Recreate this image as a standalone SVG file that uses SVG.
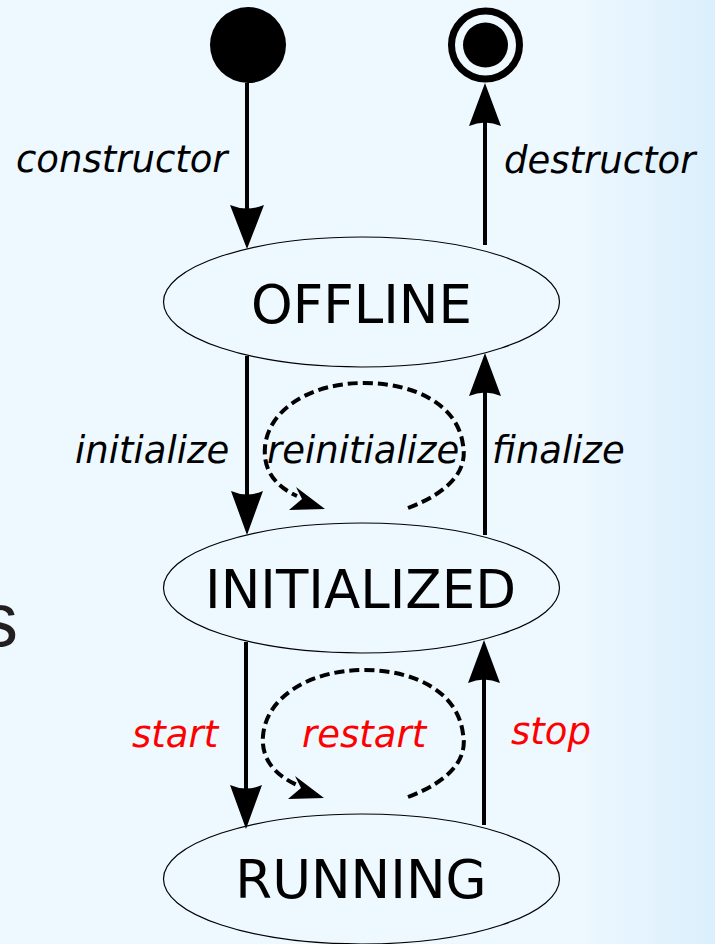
<svg xmlns="http://www.w3.org/2000/svg" width="715" height="944" viewBox="0 0 715 944">
<defs>
<linearGradient id="bg" x1="0" y1="0" x2="1" y2="0">
<stop offset="0" stop-color="#eef8ff"/>
<stop offset="0.8" stop-color="#eef8ff"/>
<stop offset="1" stop-color="#dbeffc"/>
</linearGradient>
<style>
.state{fill:none;stroke:#000;stroke-width:1.2}
.sl{font-family:"DejaVu Sans",sans-serif;font-size:53px;fill:#000;text-anchor:middle}
.el{font-family:"DejaVu Sans",sans-serif;font-size:37px;font-style:oblique;fill:#000}
.red{fill:#ff0000}
.edge{stroke:#000;stroke-width:4;fill:none}
.loop{stroke:#000;stroke-width:4;fill:none;stroke-dasharray:10,5}
.head{fill:#000}
</style>
</defs>
<rect x="0" y="0" width="715" height="944" fill="url(#bg)"/>
<text x="-20" y="646" font-family="Liberation Sans, Arial, sans-serif" font-size="76" fill="#231f20">s</text>

<g id="initial"><circle cx="248" cy="45" r="38" fill="#000"/></g>
<g id="final"><circle cx="485.5" cy="45" r="34" fill="#eef8ff" stroke="#000" stroke-width="7"/><circle cx="485.5" cy="45" r="22.5" fill="#000"/></g>

<g id="offline"><ellipse class="state" cx="361.5" cy="302" rx="198" ry="65"/><text class="sl" x="361.5" y="323">OFFLINE</text></g>
<g id="initialized"><ellipse class="state" cx="361.5" cy="588" rx="198" ry="65"/><text class="sl" x="360.5" y="608">INITIALIZED</text></g>
<g id="running"><ellipse class="state" cx="361.5" cy="879" rx="198" ry="65"/><text class="sl" x="361" y="898">RUNNING</text></g>

<g id="connectors">
<line class="edge" x1="247" y1="83" x2="247" y2="215"/>
<path class="head" d="M247,249 L230,205 Q247,212 264,205 Z"/>
<line class="edge" x1="485" y1="245" x2="485" y2="115"/>
<path class="head" d="M485,83 L469,126 Q485,119 501,126 Z"/>
<line class="edge" x1="247" y1="356" x2="247" y2="500"/>
<path class="head" d="M247,535 L231,491 Q247,498 263,491 Z"/>
<line class="edge" x1="485" y1="535" x2="485" y2="385"/>
<path class="head" d="M485,353 L469,396 Q485,389 501,396 Z"/>
<line class="edge" x1="246" y1="642" x2="246" y2="795"/>
<path class="head" d="M246,829 L230,785 Q246,792 262,785 Z"/>
<line class="edge" x1="484" y1="825" x2="484" y2="672"/>
<path class="head" d="M484,640 L468,683 Q484,676 500,683 Z"/>

<path class="loop" d="M408,508 C450,492 468,470 463,445 C458,405 415,383 364,383 C310,383 268,410 265,447 C263,470 275,486 297,496"/>
<path class="head" d="M325,509 L296,487 L302,499 L289,510 Z"/>
<path class="loop" d="M408,797 C450,781 468,759 463,734 C458,692 415,670 364,670 C310,670 266,697 263,736 C261,759 275,775 297,785"/>
<path class="head" d="M324,798 L295,776 L301,788 L288,799 Z"/>
</g>

<g id="labels">
<text class="el" x="16" y="172">constructor</text>
<text class="el" x="504" y="173">destructor</text>
<text class="el" x="75" y="463">initialize</text>
<text class="el" x="267" y="463">reinitialize</text>
<text class="el" x="492" y="463">finalize</text>
<text class="el red" x="132" y="747">start</text>
<text class="el red" x="302" y="747">restart</text>
<text class="el red" x="511" y="744">stop</text>
</g>
</svg>
